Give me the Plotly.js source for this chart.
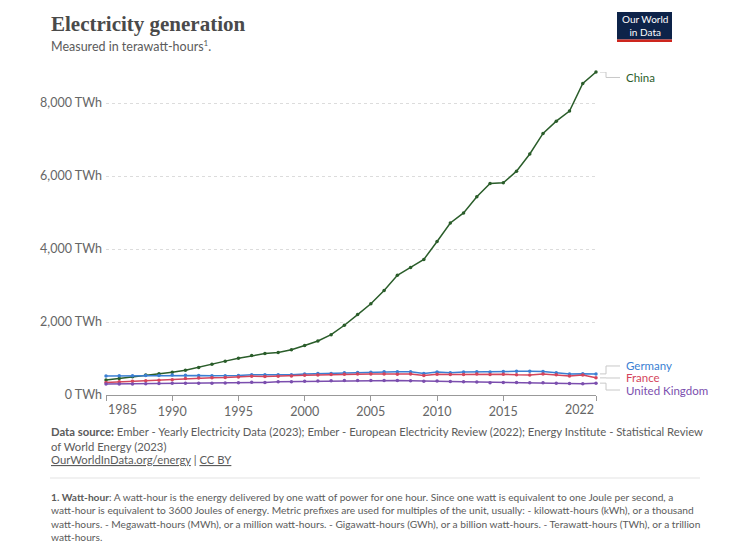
<!DOCTYPE html>
<html>
<head>
<meta charset="utf-8">
<script src="https://cdn.plot.ly/plotly-3.0.1.min.js"></script>
<style>html,body{margin:0;padding:0;background:#fff;}#chart{width:750px;height:550px;}</style>
</head>
<body>
<div id="chart"></div>
<script>
const years = [1985,1986,1987,1988,1989,1990,1991,1992,1993,1994,1995,1996,1997,1998,1999,2000,2001,2002,2003,2004,2005,2006,2007,2008,2009,2010,2011,2012,2013,2014,2015,2016,2017,2018,2019,2020,2021,2022];
const china = [410.7,449.6,497.3,545.2,584.7,621.2,677.6,754.2,839.5,928.1,1007.0,1081.3,1134.6,1167.0,1239.3,1355.6,1480.8,1654.0,1910.6,2203.3,2500.3,2865.7,3281.6,3495.8,3714.6,4207.2,4713.0,4987.6,5431.6,5794.5,5814.6,6133.2,6604.4,7166.1,7503.4,7779.1,8534.3,8848.7];
const germany = [522,525,528,531,535,549.9,539.6,537.1,526.6,528.0,536.1,552.5,552.4,556.7,556.3,576.5,586.3,586.7,608.8,616.8,620.6,637.2,637.6,637.2,592.5,630.6,608.9,630.1,638.7,627.8,646.9,648.4,651.9,642.7,607.2,572.7,584.5,577.9];
const france = [344.3,361.8,374.5,389.1,407.2,420.1,454.7,463.3,472.0,477.6,494.0,512.9,505.8,511.0,520.9,540.0,549.8,559.6,566.9,574.4,576.2,574.6,569.8,574.5,535.7,569.3,561.7,564.5,573.8,561.7,570.3,553.9,549.4,573.8,555.1,522.7,547.4,469.5];
const uk = [298,301,301,308,314,319.7,322.6,321.3,323.0,325.4,334.6,347.7,345.4,361.6,365.4,377.1,384.8,387.5,398.2,393.9,398.4,397.3,396.1,389.4,376.7,381.8,367.9,363.8,358.3,338.3,339.4,339.2,338.2,335.0,324.8,312.8,307.9,325.2];
const seriesNames = ["China","Germany","France","United Kingdom"];
const seriesColors = ["#2a5d2a","#3b7fd3","#d4455c","#7b4eae"];
const xTicks = [1985,1990,1995,2000,2005,2010,2015,2022];
const yTicks = [0,2000,4000,6000,8000];
const yTickText = ["0 TWh","2,000 TWh","4,000 TWh","6,000 TWh","8,000 TWh"];
const labelY = [8700,795,466,137]; // label placement in data units

const L = 106, R = 596, T = 72, B = 395;
const W = 750, H = 550;
const px = x => (x - L) / (R - L);
const py = y => (B - y) / (B - T);

const allData = [china, germany, france, uk];
const traces = allData.map((d, i) => ({
  x: years, y: d, type: 'scatter', mode: 'lines+markers',
  name: seriesNames[i],
  line: {color: seriesColors[i], width: 1.5},
  marker: {color: seriesColors[i], size: 3.5},
  hoverinfo: 'x+y+name', cliponaxis: false
}));

const annotations = [];
const shapes = [];
allData.forEach((d, i) => {
  const last = d[d.length - 1];
  const ly = labelY[i];
  annotations.push({
    xref: 'paper', yref: 'y', x: px(624), y: ly, xanchor: 'left', yanchor: 'middle',
    text: seriesNames[i], showarrow: false,
    font: {family: 'Lato', size: 11.5, color: seriesColors[i]}
  });
  shapes.push({
    type: 'path', xref: 'paper', yref: 'y',
    path: `M ${px(600)} ${last} L ${px(606)} ${last} L ${px(606)} ${ly} L ${px(620)} ${ly}`,
    line: {color: '#c8c8c8', width: 1}
  });
});

// first/last x tick labels aligned to the axis ends
const tickFont = {family: 'Lato', size: 12.5, color: '#666'};
annotations.push({xref:'x', yref:'paper', x:xTicks[0], y:py(409), xanchor:'left', yanchor:'middle', showarrow:false,
  text:String(xTicks[0]), font:tickFont});
annotations.push({xref:'x', yref:'paper', x:xTicks[xTicks.length-1], y:py(409), xanchor:'right', yanchor:'middle', showarrow:false,
  text:String(xTicks[xTicks.length-1]), font:tickFont});

// titles & footer
annotations.push({xref:'paper', yref:'paper', x:px(49), y:py(24), xanchor:'left', yanchor:'middle', showarrow:false,
  text:'Electricity generation', font:{family:'Liberation Serif', size:21, color:'#4a4a4a', weight:'bold'}});
annotations.push({xref:'paper', yref:'paper', x:px(49), y:py(46), xanchor:'left', yanchor:'middle', showarrow:false,
  text:'Measured in terawatt-hours<sup><span style="font-size:8px">1</span></sup>.', font:{family:'Lato', size:12.5, color:'#5b5b5b'}});
annotations.push({xref:'paper', yref:'paper', x:px(49), y:py(423), xanchor:'left', yanchor:'top', align:'left', showarrow:false,
  text:'<b>Data source:</b> Ember - Yearly Electricity Data (2023); Ember - European Electricity Review (2022); Energy Institute - Statistical Review<br>of World Energy (2023)',
  font:{family:'Lato', size:11.3, color:'#5b5b5b'}});
annotations.push({xref:'paper', yref:'paper', x:px(49), y:py(451), xanchor:'left', yanchor:'top', align:'left', showarrow:false,
  text:'<u>OurWorldInData.org/energy</u> | <u>CC BY</u>',
  font:{family:'Lato', size:11.3, color:'#5b5b5b'}});
annotations.push({xref:'paper', yref:'paper', x:px(49), y:py(489), xanchor:'left', yanchor:'top', align:'left', showarrow:false,
  text:'<b>1. Watt-hour</b>: A watt-hour is the energy delivered by one watt of power for one hour. Since one watt is equivalent to one Joule per second, a<br>watt-hour is equivalent to 3600 Joules of energy. Metric prefixes are used for multiples of the unit, usually: - kilowatt-hours (kWh), or a thousand<br>watt-hours. - Megawatt-hours (MWh), or a million watt-hours. - Gigawatt-hours (GWh), or a billion watt-hours. - Terawatt-hours (TWh), or a trillion<br>watt-hours.',
  font:{family:'Lato', size:10.2, color:'#5b5b5b'}});
// logo
shapes.push({type:'rect', xref:'paper', yref:'paper', x0:px(617), x1:px(672), y0:py(12), y1:py(39.5), fillcolor:'#0d2349', line:{width:0}});
shapes.push({type:'rect', xref:'paper', yref:'paper', x0:px(617), x1:px(672), y0:py(39.5), y1:py(42), fillcolor:'#ce261e', line:{width:0}});
annotations.push({xref:'paper', yref:'paper', x:px(644.5), y:py(26), xanchor:'center', yanchor:'middle', showarrow:false,
  text:'Our World<br>in Data', font:{family:'Lato', size:10, color:'#ffffff'}});
// separator
shapes.push({type:'line', xref:'paper', yref:'paper', x0:px(50), x1:px(700), y0:py(478), y1:py(478), line:{color:'#e3e3e3', width:1}});

const layout = {
  width: W, height: H,
  margin: {l: L, r: W - R, t: T, b: H - B},
  paper_bgcolor: '#fff', plot_bgcolor: '#fff',
  showlegend: false,
  font: {family: 'Lato', color: '#666'},
  xaxis: {
    range: [1985, 2022], tickvals: xTicks,
    ticktext: xTicks.map((v, i) => (i === 0 || i === xTicks.length - 1) ? '' : String(v)),
    showgrid: false, zeroline: false, showline: true, linecolor: '#999', linewidth: 1,
    ticks: 'outside', ticklen: 5, tickcolor: '#999',
    tickfont: tickFont
  },
  yaxis: {
    range: [0, 8850], tickvals: yTicks, ticktext: yTickText,
    showgrid: true, gridcolor: '#dcdcdc', griddash: 'dot', gridwidth: 1,
    zeroline: false, showline: false, ticks: '', ticklabelstandoff: 3,
    tickfont: tickFont
  },
  annotations: annotations,
  shapes: shapes
};

Plotly.newPlot('chart', traces, layout, {displayModeBar: false, staticPlot: true});
</script>
</body>
</html>
